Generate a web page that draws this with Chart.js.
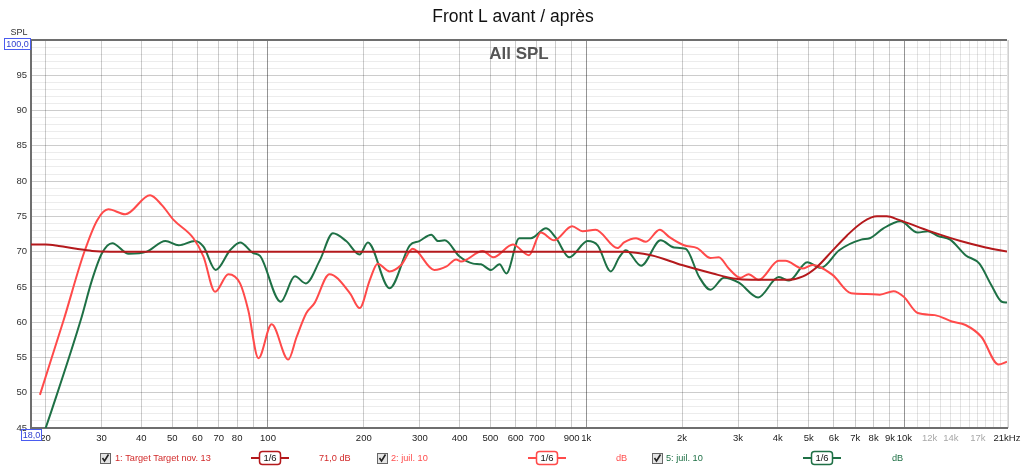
<!DOCTYPE html>
<html>
<head>
<meta charset="utf-8">
<script src="https://cdn.jsdelivr.net/npm/chart.js@4"></script>
<style>
  html, body { margin: 0; padding: 0; background: #fff; }
  #wrap { width: 1024px; height: 468px; position: relative; }
</style>
</head>
<body>
<div id="wrap"><canvas id="myChart" width="1024" height="468"></canvas></div>
<script>
// chart values
const titleText = 'Front L avant / après';
const graphText = 'All SPL';

// 1: target curve
const targetFreq = [18, 20, 22, 25, 28, 32, 1300, 1600, 2000, 2500, 2900, 3300, 4300, 4800, 5300, 5900, 6600, 7400, 8200, 8800, 9600, 12000, 15000, 18000, 21000];
const targetSpl = [71.0, 71.0, 70.8, 70.4, 70.1, 70.0, 70.0, 69.5, 68.1, 66.9, 66.2, 66.0, 66.0, 66.5, 67.8, 70.0, 72.3, 74.2, 75.0, 75.0, 74.5, 72.9, 71.5, 70.6, 70.0];

// 2: juil. 10 (avant)
const avantFreq = [19.2, 22.8, 26.4, 29.1, 31.5, 35.6, 42.6, 46.4, 50.5, 58.3, 62.7, 68.2, 75.1, 81.7, 86.7, 93.3, 102.7, 115.8, 123, 132, 140, 156, 181, 194, 209, 221, 241, 262, 285, 333, 364, 390, 404, 473, 510, 588, 661, 720, 792, 903, 974, 1070, 1254, 1315, 1434, 1540, 1702, 1821, 2029, 2233, 2457, 2609, 2805, 3049, 3237, 3484, 4028, 4227, 4775, 5138, 5945, 6797, 7584, 8369, 9237, 9948, 11008, 12456, 14094, 15557, 17460, 19755, 21000];
const avantSpl = [49.7, 60.3, 69.8, 74.5, 76.0, 75.3, 78.0, 76.6, 74.5, 71.9, 69.3, 64.3, 66.8, 65.5, 61.7, 54.9, 59.7, 54.7, 57.9, 61.3, 62.7, 66.8, 64.1, 62.0, 66.0, 68.3, 67.2, 68.1, 70.4, 67.4, 67.9, 68.9, 68.6, 70.1, 69.2, 71.0, 69.5, 72.7, 71.6, 73.6, 72.9, 73.1, 70.5, 71.3, 71.9, 71.4, 73.1, 72.1, 70.9, 70.5, 69.1, 69.2, 67.6, 66.3, 66.8, 66.0, 68.7, 68.7, 67.6, 68.1, 66.7, 64.1, 64.0, 63.9, 64.4, 63.6, 61.3, 61.0, 60.1, 59.6, 57.9, 54.0, 54.4];

// 5: juil. 10 (apres)
const apresFreq = [19.5, 20.9, 25.8, 28.0, 30.1, 32.4, 36.5, 41.6, 47.6, 52.4, 59.0, 62.7, 68.5, 76.0, 81.7, 89.9, 94.4, 109.6, 121.5, 131.5, 145.6, 160, 176, 194, 206, 241, 279, 299, 326, 342, 359, 400, 441, 467, 502, 534, 561, 616, 670, 748, 804, 885, 1010, 1086, 1195, 1270, 1332, 1488, 1713, 1888, 2054, 2265, 2457, 2710, 3017, 3468, 4028, 4340, 4950, 5463, 6238, 7312, 7776, 8586, 9710, 11008, 11855, 12764, 13922, 15557, 17199, 18774, 20220, 21000];
const apresSpl = [43.5, 47.5, 60.3, 66.0, 69.8, 71.2, 69.7, 70.0, 71.5, 70.9, 71.5, 70.7, 67.4, 70.2, 71.3, 69.8, 69.4, 62.9, 66.5, 65.5, 68.8, 72.6, 71.5, 69.6, 71.3, 64.8, 70.9, 71.5, 72.4, 71.5, 71.6, 69.3, 68.3, 68.2, 67.4, 68.2, 66.9, 71.9, 71.9, 73.3, 71.9, 69.2, 71.5, 70.9, 67.2, 69.2, 70.2, 68.0, 71.6, 70.6, 70.4, 66.4, 64.6, 66.3, 65.6, 63.5, 66.4, 65.9, 68.5, 67.7, 70.2, 71.7, 71.9, 73.3, 74.3, 72.7, 72.9, 72.2, 71.7, 69.5, 68.3, 65.2, 62.9, 62.8];

// x grid / tick labels
const xTickValues = [20, 30, 40, 50, 60, 70, 80, 90, 100, 200, 300, 400, 500, 600, 700, 800, 900, 1000, 2000, 3000, 4000, 5000, 6000, 7000, 8000, 9000, 10000, 11000, 12000, 13000, 14000, 15000, 16000, 17000, 18000, 19000, 20000, 21000];
const xTickLabels = ['20', '30', '40', '50', '60', '70', '80', '', '100', '200', '300', '400', '500', '600', '700', '', '900', '1k', '2k', '3k', '4k', '5k', '6k', '7k', '8k', '9k', '10k', '', '12k', '', '14k', '', '', '17k', '', '', '', '21kHz'];
const grayLabels = [12000, 14000, 17000];
const legendValues = ['71,0 dB', 'dB', 'dB'];

const toPoints = (fs, vs) => fs.map((f, i) => ({x: f, y: vs[i]}));

const RED_DARK = '#b4191c';
const RED_LIGHT = '#ff4a4a';
const GREEN = '#1e7045';
const FONT = '"Liberation Sans", Arial, sans-serif';

// title, frame, boxed limits and the REW style legend row
const decorPlugin = {
  id: 'decor',
  afterDraw(chart) {
    const ctx = chart.ctx;
    const a = chart.chartArea;
    ctx.save();
    // frame top + right
    ctx.strokeStyle = '#6e6e6e';
    ctx.lineWidth = 2;
    ctx.beginPath(); ctx.moveTo(a.left, a.top); ctx.lineTo(a.right, a.top); ctx.stroke();
    ctx.strokeStyle = '#d0d0d0';
    ctx.lineWidth = 1;
    ctx.beginPath(); ctx.moveTo(a.right + 1.5, a.top); ctx.lineTo(a.right + 1.5, a.bottom); ctx.stroke();

    ctx.fillStyle = '#111';
    ctx.font = '17.5px ' + FONT;
    ctx.textAlign = 'center';
    ctx.textBaseline = 'middle';
    ctx.fillText(titleText, 513, 17);
    ctx.fillStyle = '#555';
    ctx.font = 'bold 17px ' + FONT;
    ctx.fillText(graphText, 519, 54);

    ctx.fillStyle = '#333';
    ctx.font = '9px ' + FONT;
    ctx.fillText('SPL', 19, 33);

    // blue limit boxes
    ctx.strokeStyle = '#4a5cf0';
    ctx.lineWidth = 1;
    ctx.strokeRect(4.5, 38.5, 26, 11);
    ctx.fillStyle = '#2f3fd0';
    ctx.fillText('100,0', 17.5, 44.5);
    ctx.strokeRect(21.5, 429.5, 20, 11);
    ctx.fillText('18,0', 31.5, 435.5);

    // legend row
    const rows = [
      {check: 100, text: 115, sample: 270, val: 319, col: '#d22a2a'},
      {check: 377, text: 391, sample: 547, val: 616, col: '#ff4d4d'},
      {check: 652, text: 666, sample: 822, val: 892, col: GREEN}
    ];
    const y = 458;
    chart.data.datasets.forEach((ds, i) => {
      const r = rows[i];
      // checkbox
      ctx.fillStyle = '#e4e4e4';
      ctx.fillRect(r.check, y - 5, 10, 10);
      ctx.strokeStyle = '#666';
      ctx.lineWidth = 1;
      ctx.strokeRect(r.check + 0.5, y - 4.5, 10, 10);
      ctx.strokeStyle = '#222';
      ctx.lineWidth = 1.6;
      ctx.beginPath();
      ctx.moveTo(r.check + 2.5, y);
      ctx.lineTo(r.check + 4.5, y + 3);
      ctx.lineTo(r.check + 8.5, y - 3.5);
      ctx.stroke();
      // label
      ctx.fillStyle = r.col;
      ctx.font = '9.2px ' + FONT;
      ctx.textAlign = 'left';
      ctx.fillText(ds.label, r.text, y);
      // line sample with smoothing box
      ctx.strokeStyle = ds.borderColor;
      ctx.lineWidth = 2;
      ctx.beginPath(); ctx.moveTo(r.sample - 19, y); ctx.lineTo(r.sample + 19, y); ctx.stroke();
      ctx.fillStyle = '#fff';
      ctx.beginPath();
      ctx.roundRect(r.sample - 10.5, y - 6.5, 21, 13, 3);
      ctx.fill();
      ctx.lineWidth = 1.5;
      ctx.stroke();
      ctx.fillStyle = '#111';
      ctx.textAlign = 'center';
      ctx.font = '9.5px ' + FONT;
      ctx.fillText('1/6', r.sample, y + 0.5);
      ctx.fillStyle = r.col;
      ctx.font = '9.2px ' + FONT;
      ctx.textAlign = 'left';
      ctx.fillText(legendValues[i], r.val, y);
    });
    ctx.restore();
  }
};

const chart = new Chart(document.getElementById('myChart'), {
  type: 'line',
  data: {
    datasets: [
      {label: '1: Target Target nov. 13', data: toPoints(targetFreq, targetSpl), borderColor: RED_DARK, borderWidth: 2, pointRadius: 0, cubicInterpolationMode: 'monotone'},
      {label: '2: juil. 10', data: toPoints(avantFreq, avantSpl), borderColor: RED_LIGHT, borderWidth: 2, pointRadius: 0, cubicInterpolationMode: 'monotone'},
      {label: '5: juil. 10', data: toPoints(apresFreq, apresSpl), borderColor: GREEN, borderWidth: 2, pointRadius: 0, cubicInterpolationMode: 'monotone'}
    ]
  },
  options: {
    responsive: false,
    animation: false,
    layout: {padding: {top: 40, right: 17, left: 0, bottom: 0}},
    plugins: {legend: {display: false}, tooltip: {enabled: false}, title: {display: false}},
    scales: {
      x: {
        type: 'logarithmic',
        min: 18,
        max: 21000,
        afterBuildTicks: (scale) => { scale.ticks = xTickValues.map(v => ({value: v})); },
        afterFit: (scale) => { scale.height = 40; scale.paddingRight = 0; scale.paddingLeft = 0; },
        border: {color: '#6e6e6e', width: 2},
        grid: {
          drawTicks: false,
          color: (c) => {
            const v = c.tick ? c.tick.value : 0;
            if (v === 100 || v === 1000 || v === 10000) return 'rgba(0,0,0,0.42)';
            if (v > 10000) return 'rgba(0,0,0,0.11)';
            return 'rgba(0,0,0,0.2)';
          }
        },
        ticks: {
          autoSkip: false,
          maxRotation: 0,
          padding: 5,
          font: {family: FONT, size: 9.5},
          color: (c) => grayLabels.includes(c.tick.value) ? '#a8a8a8' : '#222',
          callback: (value) => {
            const i = xTickValues.indexOf(value);
            return i >= 0 ? xTickLabels[i] : '';
          }
        }
      },
      y: {
        type: 'linear',
        min: 45,
        max: 100,
        afterFit: (scale) => { scale.width = 31; },
        border: {color: '#6e6e6e', width: 2},
        grid: {
          drawTicks: false,
          color: (c) => (c.tick && c.tick.value % 5 === 0) ? 'rgba(0,0,0,0.2)' : 'rgba(0,0,0,0.075)'
        },
        ticks: {
          stepSize: 1,
          autoSkip: false,
          padding: 4,
          font: {family: FONT, size: 9.5},
          color: '#333',
          callback: (v) => (v % 5 === 0 && v !== 100) ? String(v) : ''
        }
      }
    }
  },
  plugins: [decorPlugin]
});
</script>
</body>
</html>
